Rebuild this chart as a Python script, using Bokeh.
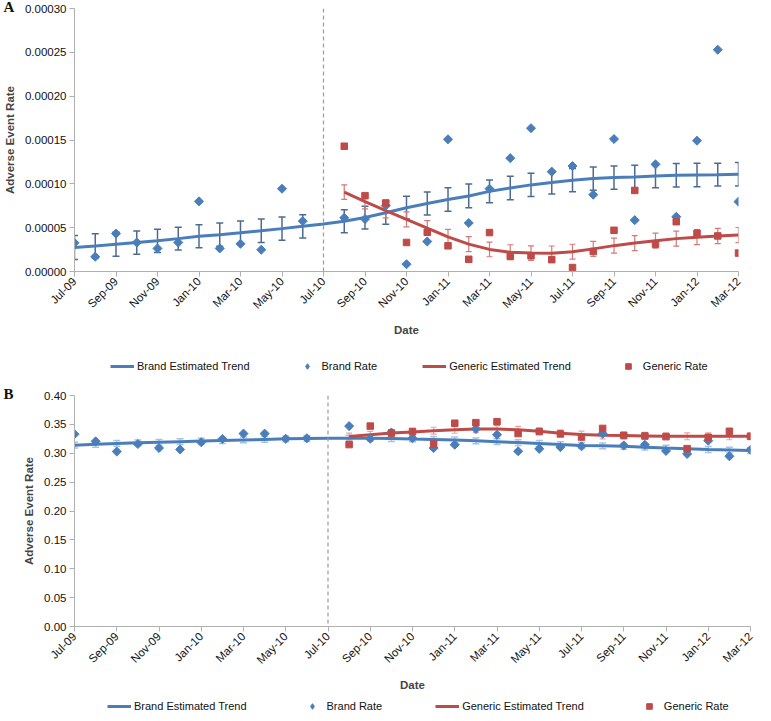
import math
from bokeh.plotting import figure
from bokeh.models import (ColumnDataSource, Whisker, TeeHead, Span, Legend, LegendItem,
                          FixedTicker, PrintfTickFormatter, Range1d, Title)
from bokeh.layouts import column
from bokeh.embed import file_html
from bokeh.resources import INLINE

N = None

# month index 0 = Jul-09 ... 32 = Mar-12
months = list(range(33))
tick_positions = [0, 2, 4, 6, 8, 10, 12, 14, 16, 18, 20, 22, 24, 26, 28, 30, 32]
tick_labels = ["Jul-09", "Sep-09", "Nov-09", "Jan-10", "Mar-10", "May-10", "Jul-10",
               "Sep-10", "Nov-10", "Jan-11", "Mar-11", "May-11", "Jul-11", "Sep-11",
               "Nov-11", "Jan-12", "Mar-12"]
switch_month = 12  # Jul-10
legend_labels = ["Brand Estimated Trend", "Brand Rate", "Generic Estimated Trend",
                 "Generic Rate"]

# ---------------- Panel A ----------------
a_yticks = [0.0, 0.00005, 0.0001, 0.00015, 0.0002, 0.00025, 0.0003]
brand_rate_a = [3.27e-5, 1.69e-5, 4.32e-5, 3.31e-5, 2.63e-5, 3.31e-5, 8.0e-5, 2.63e-5,
                3.16e-5, 2.48e-5, 9.44e-5, 5.75e-5, N, 6.13e-5, 5.98e-5, 7.52e-5,
                0.83e-5, 3.42e-5, 15.08e-5, 5.53e-5, 9.44e-5, 12.93e-5, 16.35e-5, 11.39e-5,
                12.03e-5, 8.76e-5, 15.11e-5, 5.86e-5, 12.22e-5, 6.24e-5, 14.92e-5, 25.3e-5,
                7.97e-5]
brand_trend_a = [2.74e-5, 2.92e-5, 3.12e-5, 3.3e-5, 3.5e-5, 3.75e-5, 4.02e-5, 4.2e-5,
                 4.42e-5, 4.65e-5, 4.89e-5, 5.15e-5, 5.42e-5, 5.73e-5, 6.15e-5, 6.7e-5,
                 7.28e-5, 7.76e-5, 8.21e-5, 8.62e-5, 9.14e-5, 9.53e-5, 9.88e-5, 10.15e-5,
                 10.42e-5, 10.6e-5, 10.71e-5, 10.79e-5, 10.9e-5, 10.98e-5, 11.02e-5,
                 11.05e-5, 11.09e-5]
brand_err_a = [1.36e-5, 1.4e-5, 1.38e-5, 1.33e-5, 1.32e-5, 1.3e-5, 1.32e-5, 1.32e-5,
               1.33e-5, 1.33e-5, 1.33e-5, 1.33e-5, N, 1.32e-5, 1.3e-5, 1.3e-5,
               1.3e-5, 1.32e-5, 1.33e-5, 1.35e-5, 1.3e-5, 1.34e-5, 1.32e-5, 1.32e-5,
               1.33e-5, 1.32e-5, 1.32e-5, 1.32e-5, 1.34e-5, 1.35e-5, 1.34e-5, 1.3e-5,
               1.34e-5]
generic_rate_a = [N] * 13 + [14.29e-5, 8.65e-5, 7.82e-5, 3.31e-5, 4.47e-5, 2.93e-5, 1.39e-5,
                             4.44e-5, 1.73e-5, 1.8e-5, 1.35e-5, 0.45e-5, 2.29e-5, 4.7e-5,
                             9.25e-5, 3.12e-5, 5.68e-5, 4.36e-5, 4.06e-5, 2.1e-5]
generic_trend_a = [N] * 13 + [9.06e-5, 7.97e-5, 6.95e-5, 5.95e-5, 4.96e-5, 3.95e-5, 3.12e-5,
                              2.52e-5, 2.2e-5, 2.1e-5, 2.07e-5, 2.26e-5, 2.58e-5, 2.95e-5,
                              3.24e-5, 3.52e-5, 3.75e-5, 3.92e-5, 4.05e-5, 4.16e-5]
generic_err_a = [N] * 13 + [0.83e-5, 0.83e-5, 0.84e-5, 0.85e-5, 0.85e-5, 0.86e-5, 0.86e-5,
                            0.84e-5, 0.85e-5, 0.83e-5, 0.84e-5, 0.85e-5, 0.85e-5, 0.86e-5,
                            0.85e-5, 0.86e-5, 0.86e-5, 0.86e-5, 0.86e-5, 0.86e-5]

# ---------------- Panel B ----------------
b_yticks = [0.0, 0.05, 0.10, 0.15, 0.20, 0.25, 0.30, 0.35, 0.40]
brand_rate_b = [0.333, 0.3206, 0.303, 0.316, 0.309, 0.3065, 0.319, 0.3247, 0.334, 0.334,
                0.325, 0.326, N, 0.347, 0.325, 0.336, 0.326, 0.309, 0.3147, 0.342, 0.332,
                0.3035, 0.3076, 0.3106, 0.312, 0.334, 0.3135, 0.3147, 0.304, 0.2988,
                0.3218, 0.2947, 0.306]
brand_trend_b = [0.314, 0.3155, 0.317, 0.318, 0.319, 0.320, 0.321, 0.322, 0.323, 0.324,
                 0.325, 0.3255, 0.326, 0.326, 0.326, 0.3255, 0.3247, 0.324, 0.323, 0.3215,
                 0.320, 0.3185, 0.317, 0.315, 0.3135, 0.3128, 0.312, 0.3105, 0.309, 0.308,
                 0.3065, 0.3056, 0.3047]
brand_err_b = [0.005] * 12 + [N] + [0.005] * 20
generic_rate_b = [N] * 13 + [0.315, 0.347, 0.335, 0.3376, 0.316, 0.352, 0.353, 0.3547,
                             0.334, 0.3376, 0.3335, 0.328, 0.343, 0.331, 0.330, 0.3288,
                             0.308, 0.3276, 0.338, 0.3294]
generic_trend_b = [N] * 13 + [0.329, 0.332, 0.335, 0.337, 0.339, 0.3406, 0.3418, 0.3418,
                              0.3406, 0.338, 0.3347, 0.3324, 0.331, 0.3306, 0.330, 0.3294,
                              0.3294, 0.3294, 0.3294, 0.3294]
generic_err_b = [N] * 13 + [0.006] * 20

BLUE = "#4a7ebb"
RED = "#be4b48"
FONT = "Liberation Sans"


def nan(v):
    return float("nan") if v is None else v


def err_source(xs, trend, err):
    bx, lo, hi = [], [], []
    for x, t, e in zip(xs, trend, err):
        if t is None or e is None:
            continue
        bx.append(x)
        lo.append(t - e)
        hi.append(t + e)
    return ColumnDataSource(dict(x=bx, lower=lo, upper=hi))


def make_panel(letter, width, height, yr, yticks, fmt, top, bottom,
               b_rate, b_trend, b_err, g_rate, g_trend, g_err,
               b_err_col, g_err_col):
    p = figure(width=width, height=height, x_range=Range1d(0, 32), y_range=Range1d(*yr),
               output_backend="svg", toolbar_location=None,
               min_border_left=66, min_border_right=5, min_border_top=top,
               min_border_bottom=bottom)
    p.grid.visible = False
    p.outline_line_color = None
    p.background_fill_color = "white"

    p.add_layout(Title(text=letter, align="left", offset=-71, standoff=-13,
                       text_font="Liberation Serif", text_font_style="bold",
                       text_font_size="15px", text_color="#111111"), "above")

    xa = p.xaxis[0]
    xa.ticker = FixedTicker(ticks=tick_positions)
    xa.major_label_overrides = {t: l for t, l in zip(tick_positions, tick_labels)}
    xa.major_label_orientation = math.pi / 4
    xa.axis_label = "Date"
    xa.axis_label_text_font = FONT
    xa.axis_label_text_font_style = "bold"
    xa.axis_label_text_font_size = "11.5px"
    xa.axis_label_standoff = 6

    ya = p.yaxis[0]
    ya.ticker = FixedTicker(ticks=yticks)
    ya.formatter = PrintfTickFormatter(format=fmt)
    ya.axis_label = "Adverse Event Rate"
    ya.axis_label_text_font = FONT
    ya.axis_label_text_font_style = "bold"
    ya.axis_label_text_font_size = "11.5px"
    ya.axis_label_standoff = 6

    for ax in (xa, ya):
        ax.axis_line_color = "#b0b0b0"
        ax.major_tick_line_color = "#b0b0b0"
        ax.minor_tick_line_color = None
        ax.major_tick_in = 0
        ax.major_tick_out = 5
        ax.major_label_text_font = FONT
        ax.major_label_text_font_size = "11.5px"
        ax.major_label_text_color = "#111111"
        ax.major_label_standoff = 3

    p.add_layout(Span(location=switch_month, dimension="height", line_color="#9a9a9a",
                      line_dash="4 3", line_width=1.2))

    bsrc = ColumnDataSource(dict(x=months, rate=[nan(v) for v in b_rate],
                                 trend=[nan(v) for v in b_trend]))
    gsrc = ColumnDataSource(dict(x=months, rate=[nan(v) for v in g_rate],
                                 trend=[nan(v) for v in g_trend]))

    bw = Whisker(source=err_source(months, b_trend, b_err), base="x", lower="lower",
                 upper="upper", line_color=b_err_col, line_width=1.5,
                 upper_head=TeeHead(size=7, line_color=b_err_col, line_width=1.5),
                 lower_head=TeeHead(size=7, line_color=b_err_col, line_width=1.5))
    gw = Whisker(source=err_source(months, g_trend, g_err), base="x", lower="lower",
                 upper="upper", line_color=g_err_col, line_width=1.2,
                 upper_head=TeeHead(size=6, line_color=g_err_col, line_width=1.2),
                 lower_head=TeeHead(size=6, line_color=g_err_col, line_width=1.2))

    p.line("x", "trend", source=bsrc, line_color=BLUE, line_width=3)
    p.line("x", "trend", source=gsrc, line_color=RED, line_width=3)
    p.add_layout(bw)
    p.add_layout(gw)
    p.scatter("x", "rate", source=bsrc, marker="square", angle=math.pi / 4, size=6.4,
              fill_color=BLUE, line_color=BLUE)
    p.scatter("x", "rate", source=gsrc, marker="square", size=6.5,
              fill_color=RED, line_color=RED)
    return p, bsrc, gsrc


def make_legend_strip(width, height, x0, y0, spacing, bsrc, gsrc):
    # Legend-only strip: it reuses the panel's data sources, with a view range that
    # lies outside the data so that only the legend is visible.
    q = figure(width=width, height=height, x_range=Range1d(-3, -2), y_range=Range1d(0, 1),
               output_backend="svg", toolbar_location=None, min_border=0)
    q.axis.visible = False
    q.grid.visible = False
    q.outline_line_color = None
    r1 = q.line("x", "trend", source=bsrc, line_color=BLUE, line_width=3)
    r2 = q.scatter("x", "rate", source=bsrc, marker="diamond", size=8,
                   fill_color=BLUE, line_color=BLUE)
    r3 = q.line("x", "trend", source=gsrc, line_color=RED, line_width=3)
    r4 = q.scatter("x", "rate", source=gsrc, marker="square", size=6,
                   fill_color=RED, line_color=RED)
    legend = Legend(items=[LegendItem(label=lab, renderers=[r])
                           for lab, r in zip(legend_labels, [r1, r2, r3, r4])],
                    orientation="horizontal", location=(x0, y0),
                    label_text_font=FONT, label_text_font_size="11px",
                    label_text_color="#111111", label_height=14,
                    glyph_width=24, glyph_height=14, label_standoff=3,
                    spacing=spacing, padding=0, margin=0,
                    border_line_alpha=0, background_fill_alpha=0)
    q.add_layout(legend)
    return q


pa, bsa, gsa = make_panel("A", 743, 339, (0, 0.0003), a_yticks, "%.5f", 8, 66,
                          brand_rate_a, brand_trend_a, brand_err_a,
                          generic_rate_a, generic_trend_a, generic_err_a,
                          "#4d6b91", "#d47a78")
la = make_legend_strip(743, 40, 36, 6, 45, bsa, gsa)
pb, bsb, gsb = make_panel("B", 755, 315, (0, 0.40), b_yticks, "%.2f", 16, 66,
                          brand_rate_b, brand_trend_b, brand_err_b,
                          generic_rate_b, generic_trend_b, generic_err_b,
                          "#a7c2e4", "#e9a4a2")
lb = make_legend_strip(755, 21, 33, 2, 53, bsb, gsb)

layout = column(pa, la, pb, lb, spacing=0)
open("out.html", "w").write(file_html(layout, INLINE))
